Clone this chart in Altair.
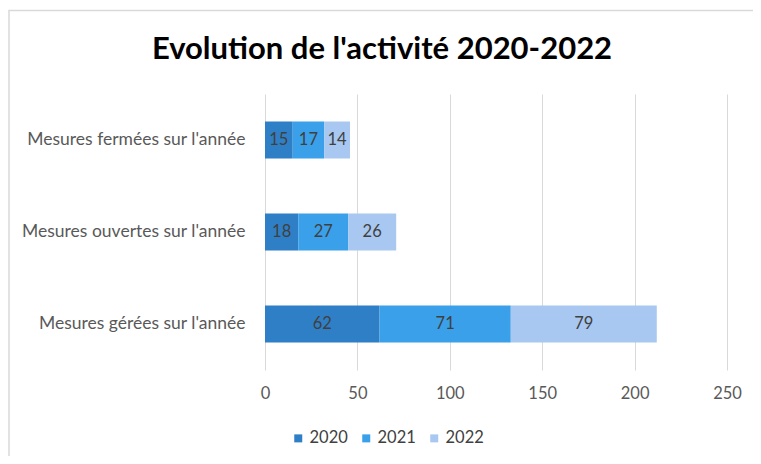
import altair as alt
import pandas as pd

categories = ["Mesures fermées sur l'année", "Mesures ouvertes sur l'année", "Mesures gérées sur l'année"]
years = ["2020", "2021", "2022"]
values_2020 = [15, 18, 62]
values_2021 = [17, 27, 71]
values_2022 = [14, 26, 79]
x_ticks = [0, 50, 100, 150, 200, 250]
colors = ["#2f7fc6", "#3aa0ea", "#a8c8f1"]

rows = []
for series, yr in zip([values_2020, values_2021, values_2022], years):
    for cat, v in zip(categories, series):
        rows.append({"cat": cat, "year": yr, "value": v})
df = pd.DataFrame(rows)

FONT = "Lato"

base = alt.Chart(df).transform_stack(
    stack="value", groupby=["cat"], as_=["v0", "v1"], sort=[alt.SortField("year", order="ascending")]
).transform_calculate(mid="(datum.v0 + datum.v1) / 2")

y_enc = alt.Y("cat:N", sort=categories, title=None,
              scale=alt.Scale(paddingInner=0.6, paddingOuter=0.3),
              axis=alt.Axis(labelFont=FONT, labelFontSize=17.5, labelColor="#595959",
                            labelPadding=20, ticks=False, domain=False, labelLimit=300))

bars = base.mark_bar(stroke=None).encode(
    x=alt.X("v0:Q", title=None,
            scale=alt.Scale(domain=[0, 250], nice=False),
            axis=alt.Axis(values=x_ticks, labelFont=FONT, labelFontSize=16.5, labelColor="#595959",
                          gridColor="#d9d9d9", domain=False, ticks=False, labelPadding=15,
                          labelFlush=False)),
    x2="v1:Q",
    y=y_enc,
    color=alt.Color("year:N", scale=alt.Scale(domain=years, range=colors),
                    legend=alt.Legend(title=None, orient="none", direction="horizontal",
                                      legendX=25, legendY=336, symbolType="square", symbolSize=64,
                                      symbolStrokeWidth=0, labelFont=FONT, labelFontSize=16.5,
                                      labelColor="#404040", columnPadding=10, labelOffset=3)),
)

labels = base.mark_text(font=FONT, fontSize=16.5, color="#404040").encode(
    x="mid:Q",
    y=alt.Y("cat:N", sort=categories),
    text="value:Q",
)

border = alt.Chart(pd.DataFrame({"a": [0]})).mark_rect(
    fill=None, stroke="#d9d9d9", strokeWidth=1.5
).encode(
    x=alt.value(-256), x2=alt.value(800), y=alt.value(-83.5), y2=alt.value(500)
)

chart = alt.layer(border, bars, labels).properties(
    width=462, height=276,
    autosize=alt.AutoSizeParams(type="none"),
    padding={"left": 257, "top": 86, "right": 26, "bottom": 86},
    title=alt.TitleParams("Evolution de l'activité 2020-2022", font=FONT, fontSize=31,
                          fontWeight="bold", color="#000000", anchor="middle",
                          dx=-114, offset=-56),
    background="white",
).configure_view(stroke=None)

chart.save("out.html", embed_options={"renderer": "svg", "actions": False})
